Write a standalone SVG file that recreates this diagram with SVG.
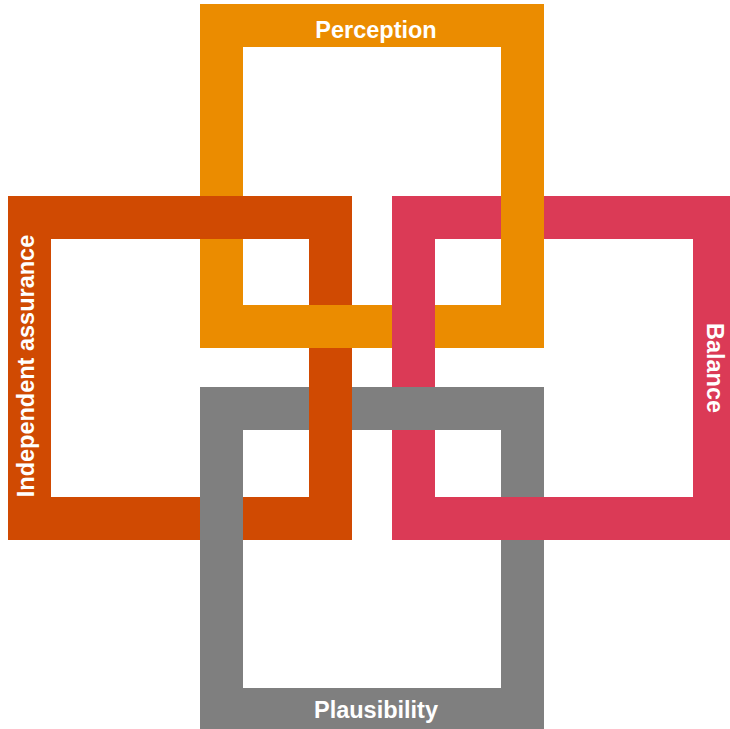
<svg xmlns="http://www.w3.org/2000/svg" width="730" height="729" viewBox="0 0 730 729">
  <style>
    .frame { fill: none; stroke-width: 43; }
    .orange { stroke: #EB8C00; }
    .rust { stroke: #D04A02; }
    .rose { stroke: #DB3A56; }
    .grey { stroke: #7F7F7F; }
    .label { fill: #FFFFFF; font-family: "Liberation Sans", Arial, sans-serif; font-weight: bold; font-size: 23.5px; text-anchor: middle; }
  </style>
  <rect width="730" height="729" fill="#FFFFFF"/>

  <g id="perception">
    <rect class="frame orange" x="221.5" y="25.5" width="301" height="301"/>
    <text class="label" x="376" y="38">Perception</text>
  </g>

  <g id="independent-assurance">
    <rect class="frame rust" x="29.5" y="217.5" width="301" height="301"/>
    <text class="label" transform="translate(34 366) rotate(-90)" x="0" y="0">Independent assurance</text>
  </g>

  <g id="balance">
    <rect class="frame rose" x="413.5" y="217.5" width="301" height="301"/>
    <text class="label" transform="translate(706.5 368) rotate(90)" x="0" y="0">Balance</text>
  </g>

  <g id="plausibility">
    <rect class="frame grey" x="221.5" y="408.5" width="301" height="301"/>
    <text class="label" x="376" y="718">Plausibility</text>
  </g>

  <!-- over/under crossings of the interlaced frames -->
  <g id="connectors">
    <rect x="309" y="305" width="43" height="43" fill="#EB8C00"/>
    <rect x="501" y="196" width="43" height="43" fill="#EB8C00"/>
    <rect x="309" y="387" width="43" height="43" fill="#D04A02"/>
    <rect x="501" y="497" width="43" height="43" fill="#DB3A56"/>
  </g>
</svg>
